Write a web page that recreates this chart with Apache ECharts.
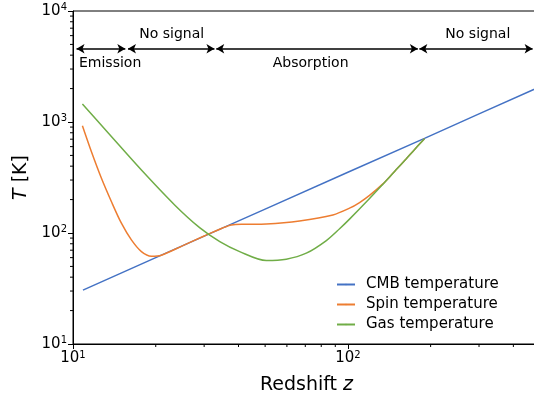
<!DOCTYPE html>
<html><head><meta charset="utf-8">
<script src="https://cdn.jsdelivr.net/npm/echarts@6/dist/echarts.min.js"></script>
<style>html,body{margin:0;padding:0;background:#fff}#c{width:534px;height:399px}</style>
</head><body><div id="c"></div>
<script>
var FONT = 'DejaVu Sans';
// CMB temperature
var cmbZ = [10.87, 20, 33, 50, 100, 190, 300, 500];
var cmbT = [30.6, 60, 104, 164, 353, 712, 1184, 2079];
// Spin temperature
var spinZ = [10.82, 11.67, 12.69, 13.79, 15.0, 16.31, 17.74, 19.28, 20.96, 25, 30, 35, 37.7, 42, 50.5, 66.7, 88.2, 101.4, 110.3, 119.9, 134.1, 145.8, 150, 163.1, 172.4, 190];
var spinT = [924, 539, 311, 192, 122.5, 86.7, 68.0, 61.8, 63.1, 76.6, 94.0, 111, 118.2, 119.8, 120.7, 128.5, 145.5, 167.3, 188.2, 218.3, 277, 345, 372.4, 467, 543.6, 708];
// Gas temperature
var gasZ = [10.82, 13.41, 17.74, 23.43, 28.88, 34.2, 40.4, 50.5, 59.7, 70.6, 83.5, 93.3, 101.4, 119.9, 134.1, 150, 163.1, 172.4, 190];
var gasT = [1449, 800, 369, 179, 111.8, 83.7, 68.0, 56.5, 58.1, 65.8, 85.5, 109.3, 133.4, 204.5, 275.2, 372.4, 467, 543.6, 708];
// Annotations
var annArrowFrom = [10.3, 15.85, 33.2, 182];
var annArrowTo = [15.5, 32.7, 179.7, 470];
var annArrowT = 4570;
var annText = ['Emission', 'No signal', 'Absorption', 'No signal'];
var annTextZ = [13.65, 22.86, 73.2, 297];
var annTextT = [3387, 6173, 3387, 6173];
// Ticks
var xMinorTicks = [20, 30, 40, 50, 60, 70, 80, 90, 200, 300, 400];
var yMinorTicks = [20, 30, 40, 50, 60, 70, 80, 90, 200, 300, 400, 500, 600, 700, 800, 900, 2000, 3000, 4000, 5000, 6000, 7000, 8000, 9000];

function pairs(a, b) { return a.map(function (v, i) { return [v, b[i]]; }); }
function powLabel(v) { return '{b|10}{s|' + Math.round(Math.log10(v)) + '}'; }
var richPow = {
  b: { fontSize: 15, fontFamily: FONT, color: '#000' },
  s: { fontSize: 10, fontFamily: FONT, color: '#000', padding: [0, 0, 7, 0] }
};
var richName = { a: { fontSize: 19, fontFamily: FONT, color: '#000' }, i: { fontSize: 19, fontFamily: FONT, fontStyle: 'italic', color: '#000' } };

var chart = echarts.init(document.getElementById('c'), null, { renderer: 'canvas' });
var option = {
  animation: false,
  backgroundColor: '#fff',
  grid: { left: 73, top: 11, width: 467, height: 333, outerBoundsMode: 'none', containLabel: false, show: true, borderColor: '#000', borderWidth: 1, backgroundColor: 'transparent' },
  legend: {
    orient: 'vertical', left: 331, top: 272, itemWidth: 18, itemHeight: 2, itemGap: 5,
    data: ['CMB temperature', 'Spin temperature', 'Gas temperature'],
    textStyle: { fontSize: 15, fontFamily: FONT, color: '#000', padding: [0, 0, 0, 6] }
  },
  xAxis: {
    type: 'log', logBase: 10, min: 10, max: 500,
    name: '{a|Redshift }{i|z}', nameLocation: 'middle', nameGap: 32,
    nameTextStyle: { rich: richName },
    axisLine: { lineStyle: { color: '#000', width: 1 } },
    axisTick: { show: true, inside: false, length: 5, lineStyle: { color: '#000' } },
    axisLabel: { formatter: powLabel, rich: richPow, margin: 6, showMaxLabel: false },
    splitLine: { show: false }
  },
  yAxis: {
    type: 'log', logBase: 10, min: 10, max: 10000,
    name: '{i|T}{a| [K]}', nameLocation: 'middle', nameGap: 40, nameRotate: 90,
    nameTextStyle: { rich: richName },
    axisLine: { lineStyle: { color: '#000', width: 1 } },
    axisTick: { show: true, inside: false, length: 5, lineStyle: { color: '#000' } },
    axisLabel: { formatter: powLabel, rich: richPow, margin: 6 },
    splitLine: { show: false }
  },
  series: [
    { name: 'CMB temperature', type: 'line', data: pairs(cmbZ, cmbT), symbol: 'none', lineStyle: { color: '#4472C4', width: 1.5 }, itemStyle: { color: '#4472C4' } },
    { name: 'Spin temperature', type: 'line', data: pairs(spinZ, spinT), symbol: 'none', smooth: 0.3, lineStyle: { color: '#ED7D31', width: 1.5 }, itemStyle: { color: '#ED7D31' } },
    { name: 'Gas temperature', type: 'line', data: pairs(gasZ, gasT), symbol: 'none', smooth: 0.3, lineStyle: { color: '#70AD47', width: 1.5 }, itemStyle: { color: '#70AD47' } },
    {
      name: 'annot', type: 'line', data: [], silent: true,
      markLine: {
        silent: true, symbol: ['arrow', 'arrow'], symbolSize: [7, 8],
        lineStyle: { color: '#000', width: 1.5, type: 'solid' }, label: { show: false },
        data: annArrowFrom.map(function (f, i) { return [{ coord: [f, annArrowT] }, { coord: [annArrowTo[i], annArrowT] }]; })
      }
    }
  ]
};
chart.setOption(option);

var g = [];
xMinorTicks.forEach(function (v) {
  var p = chart.convertToPixel({ gridIndex: 0 }, [v, 10]);
  g.push({ type: 'line', shape: { x1: p[0], y1: p[1], x2: p[0], y2: p[1] + 3 }, style: { stroke: '#000', lineWidth: 1 }, silent: true });
});
yMinorTicks.forEach(function (v) {
  var p = chart.convertToPixel({ gridIndex: 0 }, [10, v]);
  g.push({ type: 'line', shape: { x1: p[0] - 3, y1: p[1], x2: p[0], y2: p[1] }, style: { stroke: '#000', lineWidth: 1 }, silent: true });
});
annText.forEach(function (t, i) {
  var p = chart.convertToPixel({ gridIndex: 0 }, [annTextZ[i], annTextT[i]]);
  g.push({ type: 'text', x: p[0], y: p[1], silent: true,
    style: { text: t, fill: '#000', font: '14px "DejaVu Sans"', align: 'center', verticalAlign: 'middle' } });
});
chart.setOption({ graphic: g });
</script></body></html>
